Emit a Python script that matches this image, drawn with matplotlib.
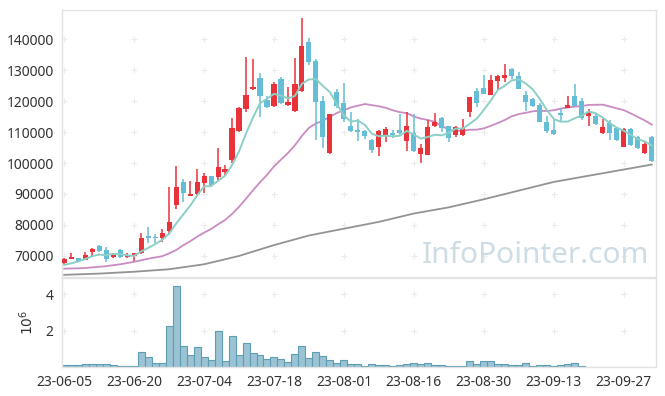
import numpy as np
import matplotlib
matplotlib.use("Agg")
import matplotlib.pyplot as plt

# daily OHLC (trading-day index)
opens = [67800, 69100, 69200, 68800, 71400, 73200, 71900, 69600, 71900, 69500,
         70000, 70900, 76400, 76100, 75900, 78100, 86600, 93800, 89400, 90000,
         93600, 95700, 95500, 97000, 101000, 110300, 117400, 123900, 127600, 120300,
         118500, 127200, 118700, 116800, 123100, 139100, 132900, 120000, 103100, 122900,
         119400, 112100, 110500, 110200, 107300, 105200, 108700, 109800, 110800, 107100,
         109600, 102800, 102700, 111800, 114600, 111900, 108900, 108900, 116600, 123300,
         124100, 122100, 126400, 127500, 130500, 128000, 122100, 120800, 118700, 113300,
         110800, 116000, 117800, 121700, 120100, 115200, 115200, 109700, 112900, 111300,
         105100, 111000, 108300, 103300, 108500]
highs = [69300, 70800, 69400, 71400, 72600, 73500, 73000, 70800, 72100, 70800,
         71000, 77300, 79400, 77000, 78600, 92100, 99000, 95000, 94100, 98200,
         96700, 95900, 104700, 99300, 114400, 118200, 134300, 133600, 129000, 121500,
         126300, 127700, 124700, 133800, 146700, 140300, 133700, 121700, 115900, 123800,
         125800, 116400, 114300, 110800, 107800, 110500, 111700, 110500, 115800, 116600,
         115800, 106000, 113900, 116000, 115000, 112100, 112100, 114200, 121400, 124200,
         128400, 128400, 128500, 132100, 130700, 129400, 123400, 121100, 119400, 115200,
         113900, 117900, 121500, 125400, 121100, 117400, 116200, 114300, 113900, 111600,
         111200, 111200, 108800, 107100, 108800]
lows = [67500, 69000, 68100, 68600, 70000, 71400, 67900, 69200, 69200, 69300,
        68500, 70700, 74300, 74100, 74600, 76800, 85300, 87300, 89200, 89700,
        90200, 92500, 94500, 95800, 100100, 109900, 116500, 123700, 115000, 117600,
        118200, 119000, 118500, 116500, 122800, 131700, 107300, 104800, 103000, 117600,
        113200, 110000, 107100, 107900, 103300, 102300, 106700, 108100, 109000, 103800,
        103400, 100000, 102500, 111600, 110100, 106800, 108300, 108700, 114700, 118000,
        122200, 121800, 123500, 126000, 127200, 123800, 116900, 118100, 113100, 109600,
        108900, 113600, 117800, 118400, 114000, 112000, 112200, 109400, 107300, 107100,
        105100, 105500, 104600, 103000, 100300]
closes = [69000, 69700, 68300, 70300, 72200, 71700, 68900, 70300, 69800, 70300,
          70900, 75900, 75900, 75900, 77300, 80900, 92100, 90400, 90100, 93800,
          95700, 92800, 98800, 98200, 111200, 117600, 121900, 124400, 121500, 118200,
          125600, 119400, 119600, 125600, 137800, 132600, 119800, 108500, 115700, 118300,
          114200, 110200, 110000, 108700, 104100, 110200, 111100, 108900, 109700, 112100,
          103800, 105000, 111500, 113200, 111200, 108200, 111600, 111200, 121400, 119400,
          122400, 126700, 128000, 128400, 128000, 124000, 119800, 118400, 113100, 110200,
          109400, 115600, 118700, 118400, 114600, 116000, 112500, 111600, 109700, 107300,
          111000, 105700, 104800, 106000, 100800]

# moving averages as drawn in the reference
ma_short = [67100, 67600, 68200, 69000, 69900, 70440, 70280, 70680, 70580, 70200,
            70040, 71440, 72560, 73780, 75180, 77180, 80420, 83320, 86160, 89460,
            92420, 92560, 94240, 95860, 99340, 103720, 109540, 114660, 119320, 120720,
            122320, 121820, 120860, 121680, 125600, 127000, 127080, 124860, 122880, 118980,
            115300, 113380, 113680, 112280, 109440, 108640, 108820, 108600, 108800, 110400,
            109120, 107900, 108420, 109120, 108940, 109820, 111140, 111080, 112720, 114360,
            117200, 120220, 123580, 124980, 126700, 127020, 125640, 123720, 120660, 117100,
            114180, 113340, 113400, 114460, 115340, 116660, 116040, 114620, 112880, 111420,
            110420, 109060, 107700, 106960, 105660]
ma_mid = [65900, 65950, 66000, 66100, 66300, 66500, 66700, 67000, 67300, 67700,
          68100, 68600, 69100, 69500, 69900, 70800, 71900, 73400, 74700, 76185,
          77520, 78675, 80200, 81595, 83545, 85840, 88490, 91195, 93780, 96175,
          98910, 101085, 103270, 105755, 108780, 111365, 112750, 113655, 114935, 116160,
          117085, 117955, 118515, 119040, 118685, 118315, 117775, 117000, 116410, 116105,
          115015, 114295, 113890, 113270, 111940, 110720, 110310, 110445, 110730, 110785,
          111195, 112020, 112920, 113905, 115100, 115790, 116225, 116700, 116870, 116775,
          117055, 117585, 117945, 118205, 118375, 118765, 118810, 118830, 118245, 117640,
          117070, 116020, 114860, 113740, 112380]
ma_long = [63900, 63980, 64060, 64140, 64220, 64300, 64420, 64540, 64660, 64780,
           64900, 65060, 65220, 65380, 65540, 65700, 66020, 66340, 66660, 66980,
           67300, 67840, 68380, 68920, 69460, 70000, 70700, 71400, 72100, 72800,
           73500, 74120, 74740, 75360, 75980, 76600, 77040, 77480, 77920, 78360,
           78800, 79240, 79680, 80120, 80560, 81000, 81540, 82080, 82620, 83160,
           83700, 84100, 84500, 84900, 85300, 85700, 86220, 86740, 87260, 87780,
           88300, 88860, 89420, 89980, 90540, 91100, 91660, 92220, 92780, 93340,
           93900, 94300, 94700, 95100, 95500, 95900, 96300, 96700, 97100, 97500,
           97900, 98300, 98700, 99100, 99500]

# volume in millions of shares
volume = [0.09, 0.09, 0.09, 0.15, 0.15, 0.15, 0.15, 0.09, 0.04, 0.04,
          0.04, 0.81, 0.54, 0.20, 0.20, 2.26, 4.45, 1.15, 0.65, 1.09,
          0.54, 0.37, 1.98, 0.31, 1.70, 0.65, 1.31, 0.76, 0.65, 0.43,
          0.54, 0.43, 0.26, 0.70, 1.15, 0.48, 0.81, 0.59, 0.37, 0.20,
          0.37, 0.15, 0.15, 0.04, 0.15, 0.09, 0.09, 0.04, 0.09, 0.15,
          0.20, 0.15, 0.20, 0.09, 0.09, 0.04, 0.04, 0.04, 0.31, 0.15,
          0.31, 0.31, 0.15, 0.15, 0.09, 0.09, 0.20, 0.04, 0.09, 0.09,
          0.04, 0.09, 0.15, 0.20, 0.03, 0.02, 0.02, 0.02, 0.02, 0.02,
          0.02, 0.02, 0.02, 0.02, 0.02]

tick_pos = [0, 10, 20, 30, 40, 50, 60, 70, 80]
tick_labels = ['23-06-05', '23-06-20', '23-07-04', '23-07-18', '23-08-01',
               '23-08-16', '23-08-30', '23-09-13', '23-09-27']
price_ticks = [70000, 80000, 90000, 100000, 110000, 120000, 130000, 140000]
vol_ticks = [2, 4]

UP = '#e8333a'
DOWN = '#66bdd6'
FRAME = '#e3e3e3'
TEXT = '#333333'


def main():
    plt.rcParams['font.family'] = ['Noto Sans', 'DejaVu Sans']
    fig = plt.figure(figsize=(6.65, 3.96), dpi=100)
    ax = fig.add_axes([62 / 665, 1 - 277 / 396, 594 / 665, 267 / 396])
    axv = fig.add_axes([62 / 665, 1 - 367 / 396, 594 / 665, 89 / 396], sharex=ax)

    x = np.arange(len(closes))
    o, h, l, c = map(np.array, (opens, highs, lows, closes))
    up = c >= o
    colors = np.where(up, UP, DOWN)

    # faint "+" grid marks at tick crossings
    gx, gy = np.meshgrid(tick_pos, price_ticks)
    ax.plot(gx.ravel(), gy.ravel(), '+', color='#ebebeb', ms=5, mew=0.8, zorder=0)
    gx, gy = np.meshgrid(tick_pos, vol_ticks)
    axv.plot(gx.ravel(), gy.ravel(), '+', color='#ebebeb', ms=5, mew=0.8, zorder=0)

    ax.plot(x, ma_long, color='#939393', lw=1.3, zorder=2)
    ax.plot(x, ma_mid, color='#c98bc2', lw=1.3, zorder=2)

    ax.vlines(x, l, h, colors=colors, lw=1.1, zorder=3)
    body = np.maximum(np.abs(c - o), 250)
    ax.bar(x, body, bottom=np.minimum(o, c), width=0.72, color=colors,
           linewidth=0, zorder=3)

    ax.plot(x, ma_short, color='#8ccfc6', lw=1.4, zorder=4)

    ax.text(0.988, 0.025, 'InfoPointer.com', transform=ax.transAxes, ha='right',
            va='bottom', fontsize=21.5, color='#cddce5', zorder=1)

    ax.set_xlim(-0.3, 84.6)
    ax.set_ylim(63200, 149400)
    ax.set_yticks(price_ticks)
    ax.set_yticklabels([str(v) for v in price_ticks])
    ax.tick_params(axis='x', labelbottom=False, length=0)
    ax.tick_params(axis='y', length=0, labelsize=10, labelcolor=TEXT, pad=6)

    axv.bar(x, volume, width=1.0, color='#9bc3d3', edgecolor='#5d9db5',
            linewidth=0.8, zorder=2)
    axv.set_ylim(0, 4.9)
    axv.set_yticks(vol_ticks)
    axv.set_xticks(tick_pos)
    axv.set_xticklabels(tick_labels)
    axv.tick_params(length=0, labelsize=10, labelcolor=TEXT, pad=6)
    axv.set_ylabel('$10^6$', color=TEXT, fontsize=10)
    axv.yaxis.set_label_coords(-0.042, 0.5)

    for a in (ax, axv):
        for s in a.spines.values():
            s.set_color(FRAME)
            s.set_linewidth(1.0)

    fig.savefig('out.png', dpi=100)


if __name__ == "__main__":
    main()
